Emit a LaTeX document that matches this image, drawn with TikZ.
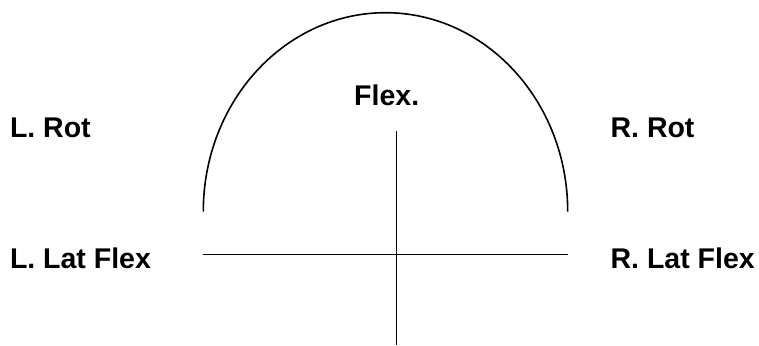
\documentclass[tikz,border=0pt]{standalone}
\usepackage{fontspec}
\setmainfont{Liberation Sans}
\usetikzlibrary{positioning}
\tikzset{
  dirlabel/.style={font=\fontsize{28.5}{31}\selectfont\bfseries, inner sep=0pt},
  axisline/.style={line width=1.6pt, black},
  rangearc/.style={line width=1.6pt, black}
}

\begin{document}
\begin{tikzpicture}[x=1pt, y=1pt]
\useasboundingbox (0,0) rectangle (759,-345);

\coordinate (arcL) at (203.3,-211.5);
\coordinate (hL) at (202.7,-254.3);
\coordinate (hR) at (567.5,-254.3);
\coordinate (vtop) at (396.3,-130.7);
\coordinate (vbot) at (396.3,-345);

\draw[rangearc] (arcL) arc[start angle=180, end angle=0, x radius=182.2pt, y radius=198.8pt];
\draw[axisline] (hL) -- (hR);
\draw[axisline] (vtop) -- (vbot);

\node[dirlabel, anchor=base] (flex) at (386.7,-105) {Flex.};
\node[dirlabel, anchor=base west] (lrot) at (9.8,-137.7) {L. Rot};
\node[dirlabel, anchor=base west] (rrot) at (610.4,-137.7) {R. Rot};
\node[dirlabel, anchor=base west] (llat) at (9.8,-268.3) {L. Lat Flex};
\node[dirlabel, anchor=base west] (rlat) at (610.4,-268.3) {R. Lat Flex};
\end{tikzpicture}
\end{document}
